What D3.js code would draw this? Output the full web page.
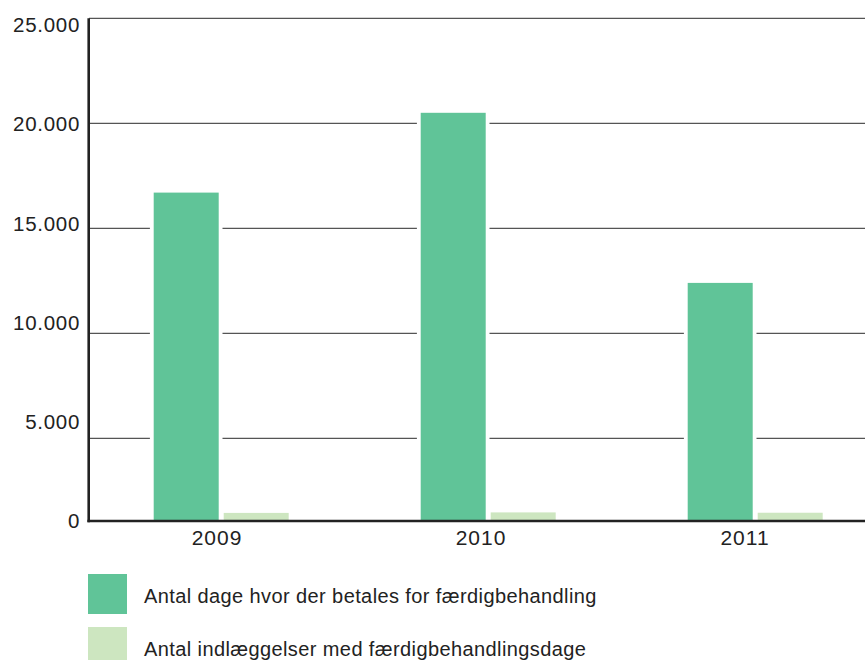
<!DOCTYPE html>
<html>
<head>
<meta charset="utf-8">
<script src="https://cdn.jsdelivr.net/npm/d3@7"></script>
<style>
  body { margin: 0; background: #fff; }
  svg { display: block; }
  text { font-family: "Liberation Sans", Arial, sans-serif; fill: #222; }
</style>
</head>
<body>
<svg id="chart" width="865" height="660"></svg>
<script>
// Data
const years = ["2009", "2010", "2011"];
const paidDays = [16700, 20500, 12400];
const admissions = [490, 520, 500];
const seriesNames = [
  "Antal dage hvor der betales for færdigbehandling",
  "Antal indlæggelser med færdigbehandlingsdage"
];
const seriesColors = ["#60c498", "#cde6c0"];
const yTicks = [0, 5000, 10000, 15000, 20000, 25000];
const tickLabels = ["0", "5.000", "10.000", "15.000", "20.000", "25.000"];

const svg = d3.select("#chart");
const W = 865;

// Bars and gridlines: the lowest 5.000 band is compressed
const y = d3.scaleLinear().domain([0, 5000, 25000]).range([521, 438.3, 18.3]);
// Tick labels run evenly down the axis
const yLab = d3.scaleLinear().domain([0, 25000]).range([521, 24.7]);
const xGroup = d3.scalePoint().domain(years).range([221.2, 755.2]);
const xLab = d3.scalePoint().domain(years).range([217, 745]);
const barW = 65, gap = 5;

// Gridlines
svg.append("g").selectAll("line")
  .data(yTicks.filter(t => t > 0))
  .join("line")
  .attr("x1", 89).attr("x2", W)
  .attr("y1", d => y(d)).attr("y2", d => y(d))
  .attr("stroke", "#555").attr("stroke-width", 1.2);

const rows = years.map((yr, i) => ({ yr, a: paidDays[i], b: admissions[i] }));

// White halo that cuts the gridlines around each tall bar
svg.append("g").selectAll("rect")
  .data(rows).join("rect")
  .attr("x", d => xGroup(d.yr) - barW - gap / 2 - 3.8)
  .attr("width", barW + 7.6)
  .attr("y", d => y(d.a) - 2)
  .attr("height", d => y(0) - y(d.a) + 2)
  .attr("fill", "#fff");

// Series 1
svg.append("g").selectAll("rect")
  .data(rows).join("rect")
  .attr("x", d => xGroup(d.yr) - barW - gap / 2)
  .attr("width", barW)
  .attr("y", d => y(d.a))
  .attr("height", d => y(0) - y(d.a))
  .attr("fill", seriesColors[0]);

// Series 2
svg.append("g").selectAll("rect")
  .data(rows).join("rect")
  .attr("x", d => xGroup(d.yr) + gap / 2)
  .attr("width", barW)
  .attr("y", d => y(d.b))
  .attr("height", d => y(0) - y(d.b))
  .attr("fill", seriesColors[1]);

// Axis lines
svg.append("line")
  .attr("x1", 88.7).attr("x2", 88.7)
  .attr("y1", y(25000)).attr("y2", y(0) + 1.3)
  .attr("stroke", "#222").attr("stroke-width", 2.6);
svg.append("line")
  .attr("x1", 87.4).attr("x2", W)
  .attr("y1", y(0)).attr("y2", y(0))
  .attr("stroke", "#222").attr("stroke-width", 2.6);

// Y tick labels
svg.append("g").selectAll("text")
  .data(yTicks).join("text")
  .attr("x", 80)
  .attr("y", d => yLab(d) + 7.3)
  .attr("text-anchor", "end")
  .attr("font-size", 20.5)
  .attr("letter-spacing", 0.7)
  .text((d, i) => tickLabels[i]);

// X labels
svg.append("g").selectAll("text")
  .data(years).join("text")
  .attr("x", d => xLab(d))
  .attr("y", 544.8)
  .attr("text-anchor", "middle")
  .attr("font-size", 21)
  .attr("letter-spacing", 1)
  .text(d => d);

// Legend
const legend = svg.append("g").selectAll("g")
  .data(seriesNames).join("g")
  .attr("transform", (d, i) => `translate(88, ${574 + i * 53})`);
legend.append("rect")
  .attr("width", 39).attr("height", 40)
  .attr("fill", (d, i) => seriesColors[i]);
legend.append("text")
  .attr("x", 56).attr("y", 28.5)
  .attr("font-size", 20)
  .attr("letter-spacing", 0.4)
  .text(d => d);
</script>
</body>
</html>
